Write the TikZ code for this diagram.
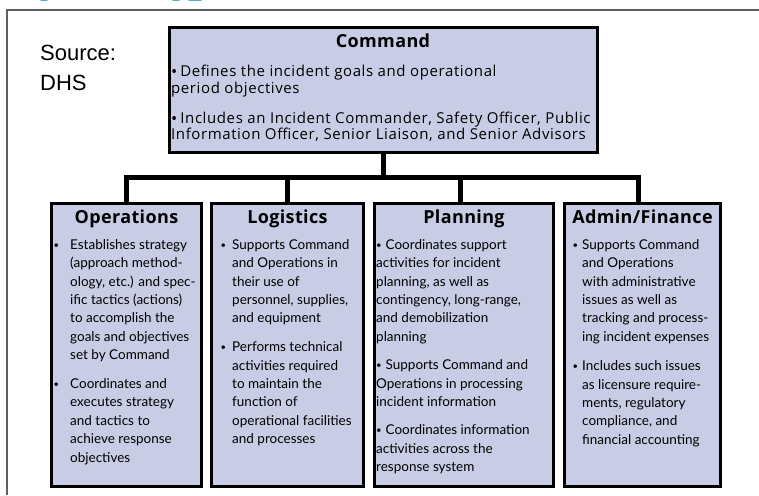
\documentclass[tikz,border=0pt]{standalone}
\usepackage{fontspec}
\setmainfont{Lato}
\newfontfamily\headfont[LetterSpace=2]{Open Sans}
\newfontfamily\cmdfont[LetterSpace=4]{Open Sans}
\newfontfamily\srcfont{Liberation Sans}
\definecolor{boxfill}{RGB}{200,204,228}
\definecolor{framegray}{RGB}{95,95,95}
\definecolor{tealtxt}{RGB}{90,170,190}
% small bullet hung to the left of the line start
\newcommand\bult[1]{\llap{\raisebox{0.08em}{\scalebox{0.7}{•}}\hspace{#1}}}
% small bullet set inline
\newcommand\ibult[1]{\raisebox{0.08em}{\scalebox{0.7}{•}}\hspace{#1}}
% bullet for the command box text (set in Open Sans)
\newcommand\cbult{{\addfontfeature{LetterSpace=0}\raisebox{-0.06em}{\scalebox{1.1}{•}}}\hspace{3pt}}
\begin{document}
\begin{tikzpicture}[x=1pt,y=-1pt,
  unit/.style={draw=black,line width=3pt,fill=boxfill,inner sep=0pt},
  conn/.style={draw=black,line width=5pt},
  head/.style={font=\headfont\bfseries\fontsize{18}{20}\selectfont,inner sep=0pt,anchor=base},
  body/.style={font=\fontsize{13.5}{18.4}\selectfont,align=left,inner sep=0pt,anchor=north west},
  cbody/.style={font=\cmdfont\fontsize{15}{16.5}\selectfont,align=left,inner sep=0pt,anchor=north west},
  src/.style={font=\srcfont\fontsize{22}{26}\selectfont,inner sep=0pt,anchor=base west}]
\useasboundingbox (0,0) rectangle (759,495);

% outer frame
\draw[framegray,line width=1.6pt] (7,495) -- (7,10) -- (759,10);
% remnants of a heading cut off above the frame
\draw[tealtxt,line width=3pt,line cap=round] (41,0) -- (47,0);
\draw[tealtxt,line width=3pt,line cap=round] (173,0) -- (179,0);
\draw[tealtxt,line width=3pt,line cap=round] (189,0) -- (201,0);

% source note
\node[src] (srcA) at (40,60) {Source:};
\node[src] (srcB) at (40,90) {DHS};

% boxes
\node[unit,minimum width=428pt,minimum height=124pt] (cmd) at (383,90) {};
\node[unit,minimum width=150pt,minimum height=283pt] (ops) at (126.5,345) {};
\node[unit,minimum width=152pt,minimum height=283pt] (log) at (287.5,345) {};
\node[unit,minimum width=179pt,minimum height=283pt] (pln) at (464,345) {};
\node[unit,minimum width=156pt,minimum height=283pt] (adm) at (642.5,345) {};

% connectors
\coordinate (bus) at (383,177);
\coordinate (plnTop) at ([xshift=-4pt]pln.north);
\coordinate (admTop) at ([xshift=-4pt]adm.north);
\draw[conn] (ops.north) |- (admTop |- bus) -- (admTop);
\draw[conn] (cmd.south) -- (cmd.south |- bus);
\draw[conn] (log.north) -- (log.north |- bus);
\draw[conn] (plnTop) -- (plnTop |- bus);

% titles
\node[head] (cmdT) at (383,48) {Command};
\node[head] (opsT) at (126.5,223.5) {Operations};
\node[head] (logT) at (287.5,223.5) {Logistics};
\node[head] (plnT) at (464,223.5) {Planning};
\node[head] (admT) at (642.5,223.5) {Admin/Finance};

% texts
\node[cbody] (cmdX) at (171,65) {\rule{0pt}{11pt}\cbult Defines the incident goals and operational\\
period objectives\\[13.5pt]
\cbult Includes an Incident Commander, Safety Officer, Public\\
Information Officer, Senior Liaison, and Senior Advisors};

\node[body] (opsX) at (70,238) {\rule{0pt}{11pt}\bult{11pt}Establishes strategy\\
(approach method-\\
ology, etc.) and spec-\\
ific tactics (actions)\\
to accomplish the\\
goals and objectives\\
set by Command\\[10.5pt]
\bult{11pt}Coordinates and\\
executes strategy\\
and tactics to\\
achieve response\\
objectives};

\node[body] (logX) at (232,238) {\rule{0pt}{11pt}\bult{6pt}Supports Command\\
and Operations in\\
their use of\\
personnel, supplies,\\
and equipment\\[10.5pt]
\bult{6pt}Performs technical\\
activities required\\
to maintain the\\
function of\\
operational facilities\\
and processes};

\node[body] (plnX) at (376,238) {\rule{0pt}{11pt}\ibult{4pt}Coordinates support\\
activities for incident\\
planning, as well as\\
contingency, long-range,\\
and demobilization\\
planning\\[10pt]
\ibult{4pt}Supports Command and\\
Operations in processing\\
incident information\\[10pt]
\ibult{4pt}Coordinates information\\
activities across the\\
response system};

\node[body] (admX) at (582,238) {\rule{0pt}{11pt}\bult{4pt}Supports Command\\
and Operations\\
with administrative\\
issues as well as\\
tracking and process-\\
ing incident expenses\\[11pt]
\bult{4pt}Includes such issues\\
as licensure require-\\
ments, regulatory\\
compliance, and\\
financial accounting};
\end{tikzpicture}
\end{document}
